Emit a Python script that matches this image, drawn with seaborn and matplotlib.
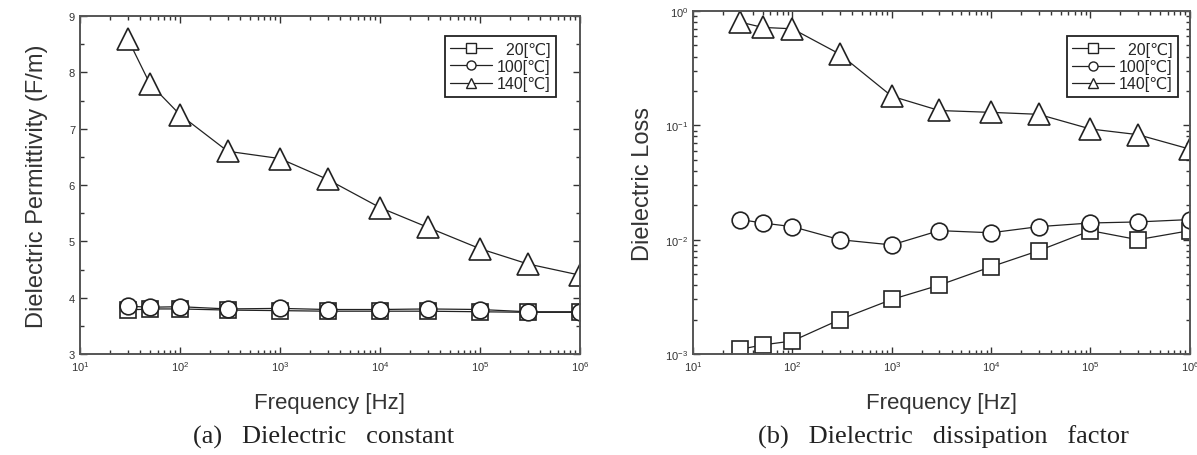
import matplotlib
matplotlib.use('Agg')
import matplotlib.pyplot as plt
import matplotlib.ticker as mticker
import seaborn as sns
import numpy as np

sns.set_theme(style='ticks')
plt.rcParams['font.family'] = ['Liberation Sans', 'DejaVu Sans']
plt.rcParams['mathtext.fontset'] = 'custom'
plt.rcParams['mathtext.rm'] = 'Liberation Sans'

freq = [30, 50, 100, 300, 1e3, 3e3, 1e4, 3e4, 1e5, 3e5, 1e6]
labels = ['  20[℃]', '100[℃]', '140[℃]']

perm_20 = [3.78, 3.80, 3.80, 3.78, 3.77, 3.76, 3.76, 3.76, 3.75, 3.74, 3.74]
perm_100 = [3.85, 3.83, 3.84, 3.80, 3.81, 3.79, 3.79, 3.80, 3.79, 3.75, 3.75]
perm_140 = [8.60, 7.80, 7.25, 6.60, 6.47, 6.10, 5.60, 5.25, 4.87, 4.60, 4.40]

loss_20 = [0.0011, 0.0012, 0.0013, 0.002, 0.003, 0.004, 0.0058, 0.008, 0.012, 0.010, 0.012]
loss_100 = [0.015, 0.014, 0.013, 0.010, 0.009, 0.012, 0.0115, 0.013, 0.014, 0.0143, 0.015]
loss_140 = [0.80, 0.72, 0.70, 0.42, 0.18, 0.135, 0.13, 0.125, 0.093, 0.083, 0.062]

markers = ['s', 'o', '^']
sizes = [11, 12, 16]
INK = '#333333'


def draw_panel(ax, series, legend_anchor):
    handles = []
    for vals, mk, ms, lab in zip(series, markers, sizes, labels):
        sns.lineplot(x=freq, y=vals, ax=ax, color='#222222', lw=0.9,
                     marker=mk, markersize=ms, markerfacecolor='white',
                     markeredgecolor='#222222', markeredgewidth=1.2)
        handles.append(plt.Line2D([], [], color='#222222', lw=0.9, marker=mk,
                                  markersize=6.5, markerfacecolor='white',
                                  markeredgecolor='#222222', label=lab))
    ax.set_xscale('log')
    ax.set_xlim(10, 1e6)
    ax.tick_params(which='both', direction='in', top=True, right=True,
                   colors=INK, labelsize=8, width=1)
    ax.tick_params(which='major', length=5)
    ax.tick_params(which='minor', length=3)
    ax.xaxis.set_minor_locator(mticker.LogLocator(subs=np.arange(2, 10)))
    for side in ax.spines.values():
        side.set_color('#555555')
        side.set_linewidth(1.4)
    ax.set_xlabel('Frequency [Hz]', fontsize=16, color=INK, labelpad=14)
    leg = ax.legend(handles=handles, loc='upper right',
                    bbox_to_anchor=legend_anchor, fontsize=11.5,
                    handlelength=2.6, handletextpad=0.3, labelspacing=0.15,
                    borderpad=0.35, borderaxespad=0, fancybox=False,
                    framealpha=1, edgecolor='#222222')
    leg.get_frame().set_linewidth(1.3)
    return leg


fig = plt.figure(figsize=(11.97, 4.56), dpi=100)
ax1 = fig.add_axes([0.0668, 0.2215, 0.4177, 0.741])
ax2 = fig.add_axes([0.579, 0.2215, 0.415, 0.752])

draw_panel(ax1, [perm_20, perm_100, perm_140], (0.952, 0.941))
ax1.set_ylim(3, 9)
ax1.yaxis.set_major_locator(mticker.MultipleLocator(1))
ax1.yaxis.set_minor_locator(mticker.MultipleLocator(0.5))
ax1.set_ylabel('Dielectric Permittivity (F/m)', fontsize=17, color=INK,
               labelpad=15)

draw_panel(ax2, [loss_20, loss_100, loss_140], (0.976, 0.927))
ax2.set_yscale('log')
ax2.set_ylim(1e-3, 1)
ax2.yaxis.set_minor_locator(mticker.LogLocator(subs=np.arange(2, 10)))
ax2.yaxis.set_minor_formatter(mticker.NullFormatter())
ax2.set_ylabel('Dielectric Loss', fontsize=17, color=INK, labelpad=8)

fig.text(0.27, 0.04, '(a)   Dielectric   constant', ha='center', va='center',
         fontsize=19, family='Liberation Serif', color='#222222')
fig.text(0.788, 0.04, '(b)   Dielectric   dissipation   factor', ha='center',
         va='center', fontsize=19, family='Liberation Serif', color='#222222')

fig.savefig('out.png', dpi=100)
